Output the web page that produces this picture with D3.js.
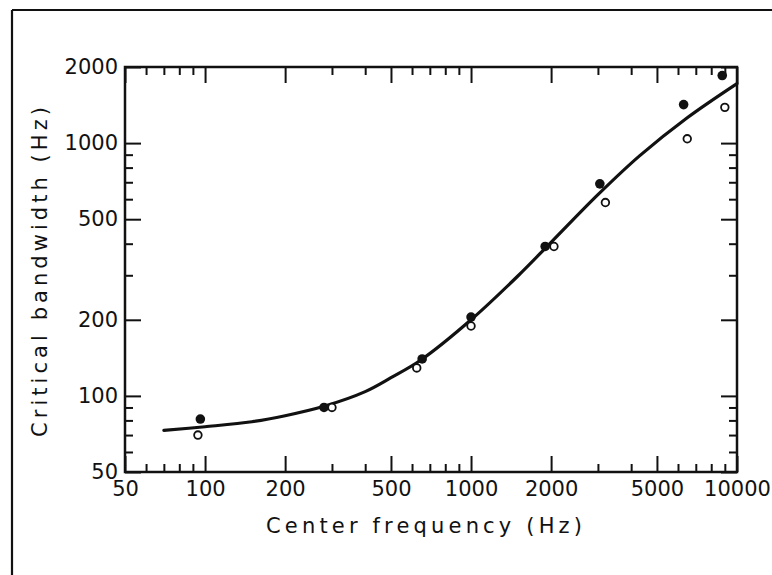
<!DOCTYPE html>
<html>
<head>
<meta charset="utf-8">
<script src="https://cdn.jsdelivr.net/npm/d3@7"></script>
<style>
  html, body { margin: 0; padding: 0; background: #fff; }
  svg { display: block; }
  text { font-family: "DejaVu Sans", sans-serif; fill: #111; }
</style>
</head>
<body>
<svg id="chart" width="772" height="575"></svg>
<script>
// Critical bandwidth vs. center frequency (log-log)
const xMajorTicks = [50, 100, 200, 500, 1000, 2000, 5000, 10000];
const xMinorTicks = [60, 70, 80, 90, 300, 400, 600, 700, 800, 900, 3000, 4000, 6000, 7000, 8000, 9000];
const yMajorTicks = [50, 100, 200, 500, 1000, 2000];
const yMinorTicks = [60, 70, 80, 90, 300, 400, 600, 700, 800, 900];

// measured points, filled markers
const filledFreq = [96, 280, 655, 1000, 1900, 3050, 6300, 8800];
const filledBW   = [81, 90, 140, 205, 390, 690, 1420, 1850];
// measured points, open markers
const openFreq = [94, 300, 625, 1000, 2050, 3200, 6500, 9000];
const openBW   = [70, 90, 129, 189, 390, 582, 1040, 1385];

// fitted curve
const curveFreq = [70, 100, 150, 200, 280, 400, 500, 650, 1000, 1500, 2000, 3000, 4300, 6500, 10000];
const curveBW   = [73, 75.5, 79, 83.5, 91, 104, 118, 139, 200, 298, 405, 625, 890, 1260, 1720];

const svg = d3.select("#chart");

const x = d3.scaleLog().domain([50, 10000]).range([125, 737]);
const y = d3.scaleLog().domain([50, 2000]).range([472, 67]);

// outer frame (top and left edges)
svg.append("line").attr("x1", 12).attr("y1", 10).attr("x2", 772).attr("y2", 10)
  .attr("stroke", "#111").attr("stroke-width", 2.2);
svg.append("line").attr("x1", 12).attr("y1", 10).attr("x2", 12).attr("y2", 575)
  .attr("stroke", "#111").attr("stroke-width", 2.2);

const fmt = d3.format("d");
const MAJ = 16, MIN = 8;

function styleAxis(g) {
  g.select(".domain").remove();
  g.selectAll(".tick line").attr("stroke", "#111").attr("stroke-width", 2);
  g.selectAll(".tick text").attr("font-size", 21).attr("fill", "#111")
    .attr("font-family", '"DejaVu Sans", sans-serif');
}

// bottom
svg.append("g").attr("transform", "translate(0,472)")
  .call(d3.axisBottom(x).tickValues(xMajorTicks).tickFormat(fmt).tickSizeInner(-MAJ).tickSizeOuter(0).tickPadding(9))
  .call(styleAxis);
svg.append("g").attr("transform", "translate(0,472)")
  .call(d3.axisBottom(x).tickValues(xMinorTicks).tickFormat("").tickSizeInner(-MIN).tickSizeOuter(0))
  .call(styleAxis);
// top
svg.append("g").attr("transform", "translate(0,67)")
  .call(d3.axisTop(x).tickValues(xMajorTicks).tickFormat("").tickSizeInner(-MAJ).tickSizeOuter(0))
  .call(styleAxis);
svg.append("g").attr("transform", "translate(0,67)")
  .call(d3.axisTop(x).tickValues(xMinorTicks).tickFormat("").tickSizeInner(-MIN).tickSizeOuter(0))
  .call(styleAxis);
// left
svg.append("g").attr("transform", "translate(125,0)")
  .call(d3.axisLeft(y).tickValues(yMajorTicks).tickFormat(fmt).tickSizeInner(-MAJ).tickSizeOuter(0).tickPadding(7))
  .call(styleAxis);
svg.append("g").attr("transform", "translate(125,0)")
  .call(d3.axisLeft(y).tickValues(yMinorTicks).tickFormat("").tickSizeInner(-MIN).tickSizeOuter(0))
  .call(styleAxis);
// right
svg.append("g").attr("transform", "translate(737,0)")
  .call(d3.axisRight(y).tickValues(yMajorTicks).tickFormat("").tickSizeInner(-MAJ).tickSizeOuter(0))
  .call(styleAxis);
svg.append("g").attr("transform", "translate(737,0)")
  .call(d3.axisRight(y).tickValues(yMinorTicks).tickFormat("").tickSizeInner(-MIN).tickSizeOuter(0))
  .call(styleAxis);

// plot box
svg.append("rect")
  .attr("x", x(50)).attr("y", y(2000))
  .attr("width", x(10000) - x(50)).attr("height", y(50) - y(2000))
  .attr("fill", "none").attr("stroke", "#111").attr("stroke-width", 2.5);

// curve
const curvePts = curveFreq.map((f, i) => [f, curveBW[i]]);
svg.append("path")
  .datum(curvePts)
  .attr("fill", "none").attr("stroke", "#111").attr("stroke-width", 3.2)
  .attr("stroke-linecap", "round")
  .attr("d", d3.line().x(d => x(d[0])).y(d => y(d[1])).curve(d3.curveCatmullRom.alpha(0.5)));

// open markers
svg.append("g").selectAll("circle")
  .data(openFreq.map((f, i) => [f, openBW[i]]))
  .join("circle")
  .attr("cx", d => x(d[0])).attr("cy", d => y(d[1])).attr("r", 3.8)
  .attr("fill", "#fff").attr("stroke", "#111").attr("stroke-width", 1.8);

// filled markers
svg.append("g").selectAll("circle")
  .data(filledFreq.map((f, i) => [f, filledBW[i]]))
  .join("circle")
  .attr("cx", d => x(d[0])).attr("cy", d => y(d[1])).attr("r", 4.8)
  .attr("fill", "#111");

// axis titles
svg.append("text")
  .attr("x", 424).attr("y", 533)
  .attr("text-anchor", "middle").attr("font-size", 21)
  .attr("textLength", 316).attr("lengthAdjust", "spacing")
  .text("Center frequency (Hz)");

svg.append("text")
  .attr("transform", "translate(47,272) rotate(-90)")
  .attr("text-anchor", "middle").attr("font-size", 21)
  .attr("textLength", 330).attr("lengthAdjust", "spacing")
  .text("Critical bandwidth (Hz)");
</script>
</body>
</html>
